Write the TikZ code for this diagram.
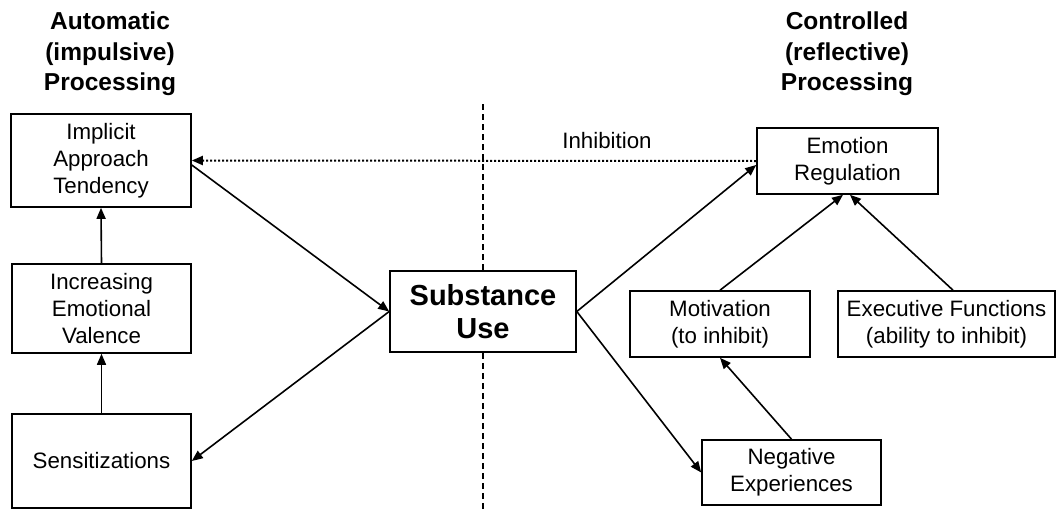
\documentclass[tikz,border=0pt]{standalone}
\usepackage{fontspec}
\setmainfont{Liberation Sans}
\usetikzlibrary{arrows.meta,calc}
\begin{document}
\begin{tikzpicture}[x=1pt,y=-1pt,
  box/.style={draw,line width=1.6pt,rectangle,align=center,inner sep=0pt,font=\fontsize{22.3}{27}\selectfont},
  title/.style={align=center,font=\fontsize{24.5}{30.5}\selectfont\bfseries},
  conn/.style={line width=1.6pt,-{Triangle[length=11pt,width=9pt]}},
  lbl/.style={font=\fontsize{22.3}{27}\selectfont}]
\useasboundingbox (0,0) rectangle (1062,514);
% titles
\node[title] (tA) at (110,54) {Automatic\\(impulsive)\\Processing};
\node[title] (tC) at (847,54) {Controlled\\(reflective)\\Processing};
% boxes
\node[box,minimum width=180pt,minimum height=93pt] (impl) at (101,160.5) {Implicit\\Approach\\Tendency};
\node[box,minimum width=179pt,minimum height=89pt] (incr) at (101.5,308.5) {Increasing\\Emotional\\Valence};
\node[box,minimum width=179pt,minimum height=94pt] (sens) at (101.5,461) {Sensitizations};
\node[box,minimum width=186pt,minimum height=81pt,font=\fontsize{29}{33}\selectfont\bfseries] (sub) at (483,311.5) {Substance\\Use};
\node[box,minimum width=181pt,minimum height=66pt] (emo) at (847.5,161) {Emotion\\Regulation};
\node[box,minimum width=180pt,minimum height=66pt] (mot) at (720,324) {Motivation\\(to inhibit)};
\node[box,minimum width=217pt,minimum height=66pt] (exe) at (946.5,324) {Executive Functions\\(ability to inhibit)};
\node[box,minimum width=179pt,minimum height=65pt] (neg) at (791.5,472.5) {Negative\\Experiences};
% divider
\coordinate (dtop) at (483,104);
\coordinate (dbot) at (483,512);
\draw[line width=1.6pt,dash pattern=on 6pt off 4pt] (dtop) -- (sub.north);
\draw[line width=1.6pt,dash pattern=on 6pt off 4pt] (sub.south) -- (dbot);
% inhibition
\draw[line width=2pt,dash pattern=on 2pt off 2pt,-{Triangle[length=11pt,width=9pt]}] (emo.west) -- (impl.east);
\node[lbl] (inh) at (607,141) {Inhibition};
% connectors
\draw[conn] (sens.north) -- (incr.south);
\draw[conn] (incr.north) -- (impl.south);
\draw[conn] ($(impl.east)+(0,4.5)$) -- (sub.west);
\draw[conn] (sub.west) -- (sens.east);
\draw[conn] (sub.east) -- ($(emo.west)+(0,4)$);
\draw[conn] (sub.east) -- (neg.west);
\draw[conn] (neg.north) -- (mot.south);
\draw[conn] (mot.north) -- ($(emo.south)+(-4.5,0)$);
\draw[conn] ($(exe.north)+(6.5,0)$) -- ($(emo.south)+(2.5,0)$);
\end{tikzpicture}
\end{document}
